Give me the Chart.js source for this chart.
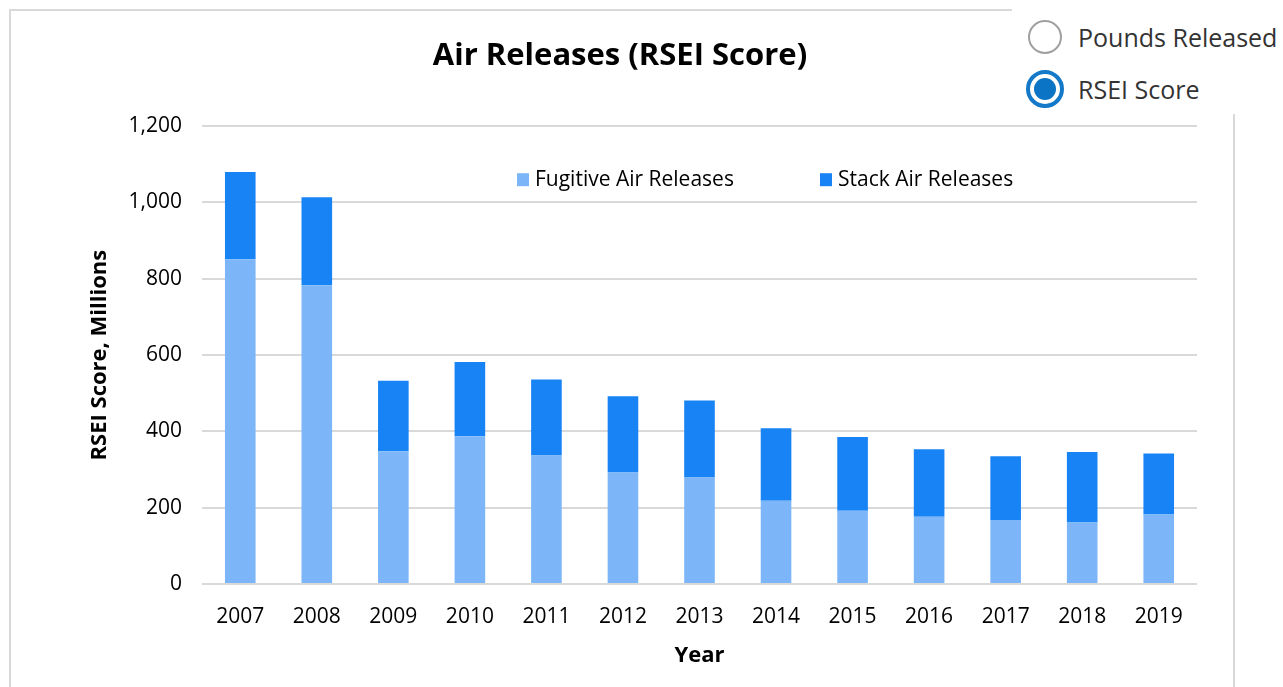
<!DOCTYPE html>
<html>
<head>
<meta charset="utf-8">
<script src="https://cdn.jsdelivr.net/npm/chart.js@4/dist/chart.umd.min.js"></script>
<style>
  body { margin: 0; background: #fff; font-family: "Open Sans", sans-serif; }
  #frame { position: absolute; left: 9px; top: 9px; width: 1222px; height: 700px;
           border-top: 2px solid #d9d9d9; border-left: 2px solid #d9d9d9; border-right: 2px solid #d9d9d9; }
  #wrap { position: absolute; left: 43px; top: 13px; width: 1190px; height: 675px; }
  #panel { position: absolute; left: 1012px; top: 0; width: 271px; height: 114px; background: #fff; }
  .opt { position: absolute; left: 66px; font-size: 25px; color: #333; line-height: 32px; white-space: nowrap; }
  .radio { position: absolute; border-radius: 50%; box-sizing: border-box; }
</style>
</head>
<body>
<div id="frame"></div>
<div id="wrap"><canvas id="chart"></canvas></div>
<div id="panel">
  <div class="radio" style="left:16px;top:20px;width:34px;height:34px;border:2px solid #a0a0a0;"></div>
  <div class="opt" style="top:21px;">Pounds Released</div>
  <div class="radio" style="left:14px;top:70px;width:38px;height:38px;border:4px solid #1479c8;padding:4px;">
    <div style="width:100%;height:100%;border-radius:50%;background:#0b74c5;"></div>
  </div>
  <div class="opt" style="top:73px;">RSEI Score</div>
</div>
<script>
// values, millions
const years = ["2007", "2008", "2009", "2010", "2011", "2012", "2013", "2014", "2015", "2016", "2017", "2018", "2019"];
const fugitive = [851, 783, 348, 387, 337, 292, 279, 218, 192, 176, 168, 161, 182];
const stack = [229, 231, 185, 195, 199, 200, 202, 190, 193, 177, 167, 185, 160];

const font = "'Open Sans', sans-serif";

// legend drawn inside the plot, like the original
const innerLegend = {
  id: "innerLegend",
  afterDraw(chart) {
    const ctx = chart.ctx;
    const a = chart.chartArea;
    const y = a.top + 54;
    const items = [
      { x: a.left + 315, ds: chart.data.datasets[0] },
      { x: a.left + 618, ds: chart.data.datasets[1] },
    ];
    ctx.save();
    ctx.font = "21px " + font;
    ctx.textBaseline = "middle";
    items.forEach((it) => {
      ctx.fillStyle = it.ds.backgroundColor;
      ctx.fillRect(it.x, y - 7, 12, 13);
      ctx.fillStyle = "#000";
      ctx.fillText(it.ds.label, it.x + 18, y);
    });
    ctx.restore();
  },
};

const ctx = document.getElementById("chart");

const myChart = new Chart(ctx, {
  type: "bar",
  data: {
    labels: years,
    datasets: [
      {
        label: "Fugitive Air Releases",
        data: fugitive,
        backgroundColor: "#7cb6f9",
        categoryPercentage: 1,
        barPercentage: 0.4,
      },
      {
        label: "Stack Air Releases",
        data: stack,
        backgroundColor: "#1883f5",
        categoryPercentage: 1,
        barPercentage: 0.4,
      },
    ],
  },
  options: {
    responsive: true,
    maintainAspectRatio: false,
    animation: false,
    layout: { padding: { left: 0, right: 36, top: 0, bottom: 0 } },
    plugins: {
      legend: { display: false },
      tooltip: { enabled: false },
      title: {
        display: true,
        text: "Air Releases (RSEI Score)",
        color: "#000",
        font: { family: font, size: 31, weight: "bold" },
        padding: { top: 25, bottom: 51 },
      },
    },
    scales: {
      x: {
        stacked: true,
        grid: { display: false },
        border: { display: false },
        ticks: { color: "#000", font: { family: font, size: 21 }, padding: 12 },
        title: {
          display: true,
          text: "Year",
          color: "#000",
          font: { family: font, size: 22, weight: "bold" },
          padding: { top: 0, bottom: 19 },
        },
        afterFit(scale) { scale.height = 104; },
      },
      y: {
        stacked: true,
        min: 0,
        max: 1200,
        ticks: { stepSize: 200, color: "#000", font: { family: font, size: 21 }, padding: 20 },
        grid: { color: "#d9d9d9", lineWidth: 2, drawTicks: false },
        border: { display: false },
        title: {
          display: true,
          text: "RSEI Score, Millions",
          color: "#000",
          font: { family: font, size: 22, weight: "bold" },
          padding: { top: 44, bottom: 0 },
        },
        afterFit(scale) { scale.width = 159; },
      },
    },
  },
  plugins: [innerLegend],
});
</script>
</body>
</html>
